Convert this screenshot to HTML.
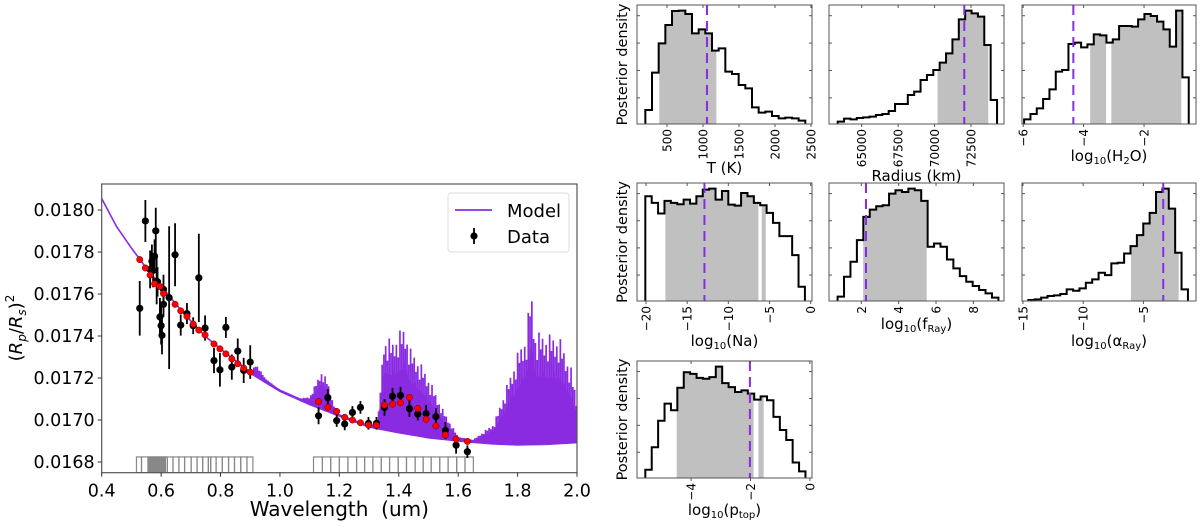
<!DOCTYPE html>
<html><head><meta charset="utf-8"><style>
html,body{margin:0;padding:0;background:#fff;}
svg{display:block;font-family:"DejaVu Sans","Liberation Sans",sans-serif;}
</style></head><body>
<svg id="fig" width="1200" height="528" viewBox="0 0 1200 528" xmlns="http://www.w3.org/2000/svg"></svg>
<script>
// ===== Main spectrum data =====
const modelWl = [0.40,0.45,0.50,0.55,0.60,0.65,0.70,0.75,0.80,0.85,0.90,1.0,1.1,1.2,1.3,1.4,1.5,1.6,1.7,1.8,1.9,2.0];
const modelLow = [0.018055,0.017921,0.017819,0.017724,0.017638,0.017551,0.017472,0.017397,0.017339,0.017283,0.017228,0.017142,0.017079,0.017024,0.016972,0.016945,0.016921,0.016906,0.016893,0.016887,0.016890,0.016898];
const envWl = [0.90,0.92,0.95,1.0,1.05,1.10,1.12,1.14,1.16,1.18,1.20,1.30,1.33,1.35,1.38,1.40,1.42,1.44,1.47,1.50,1.55,1.60,1.65,1.72,1.76,1.80,1.83,1.845,1.86,1.90,1.94,1.98,2.0];
const envHigh = [0.017228,0.017268,0.017200,0.017142,0.017100,0.017110,0.017173,0.017236,0.017189,0.017079,0.017024,0.016972,0.017000,0.017400,0.017380,0.017420,0.017450,0.017340,0.017280,0.017205,0.017047,0.016921,0.016906,0.016984,0.017150,0.017320,0.017420,0.017646,0.017420,0.017409,0.017400,0.017250,0.017094];
const spikePattern = [1.0,0.6,0.85,0.45,0.95,0.65,0.8,0.5,0.9,0.55,0.75,0.4];
const dataWl = [0.528,0.547,0.563,0.569,0.573,0.578,0.582,0.585,0.588,0.596,0.600,0.603,0.608,0.608,0.627,0.647,0.666,0.687,0.708,0.727,0.748,0.778,0.798,0.818,0.838,0.858,0.878,0.900,1.130,1.161,1.191,1.218,1.244,1.271,1.298,1.325,1.352,1.379,1.406,1.436,1.464,1.492,1.525,1.557,1.593,1.631];
const dataVal = [0.017532,0.017948,0.017717,0.017756,0.017712,0.017780,0.017901,0.017661,0.017658,0.017491,0.017449,0.017403,0.017551,0.017622,0.017583,0.017787,0.017452,0.017507,0.017449,0.017677,0.017438,0.017283,0.017239,0.017441,0.017252,0.017328,0.017236,0.017276,0.017020,0.017107,0.016997,0.016981,0.017036,0.017060,0.016984,0.016984,0.017060,0.017113,0.017117,0.017054,0.017028,0.017031,0.017016,0.016950,0.016880,0.016849];
const dataErr = [0.000130,0.000100,0.000090,0.000080,0.000080,0.000080,0.000110,0.000110,0.000070,0.000090,0.000090,0.000090,0.000060,0.000070,0.000340,0.000150,0.000050,0.000050,0.000040,0.000210,0.000060,0.000060,0.000080,0.000050,0.000060,0.000060,0.000060,0.000080,0.000040,0.000040,0.000030,0.000030,0.000030,0.000030,0.000030,0.000030,0.000040,0.000040,0.000040,0.000040,0.000030,0.000040,0.000040,0.000040,0.000040,0.000030];
const binWl = [0.528,0.547,0.563,0.578,0.596,0.608,0.647,0.666,0.687,0.708,0.727,0.748,0.778,0.798,0.818,0.838,0.858,0.878,0.900,1.130,1.161,1.191,1.218,1.244,1.271,1.298,1.325,1.352,1.379,1.406,1.436,1.464,1.492,1.525,1.557,1.593,1.631];
const binVal = [0.017764,0.017724,0.017690,0.017649,0.017636,0.017602,0.017551,0.017520,0.017493,0.017457,0.017428,0.017405,0.017362,0.017339,0.017315,0.017291,0.017268,0.017247,0.017228,0.017087,0.017060,0.017041,0.017013,0.017000,0.016987,0.016976,0.016975,0.017071,0.017076,0.017082,0.017107,0.017055,0.017003,0.016972,0.016929,0.016909,0.016898];
const passEdges1 = [0.517,0.534,0.556,0.614,0.621,0.640,0.660,0.679,0.701,0.721,0.740,0.759,0.767,0.785,0.806,0.827,0.847,0.868,0.889,0.909];
const passEdges2 = [1.113,1.143,1.171,1.200,1.229,1.258,1.285,1.313,1.341,1.369,1.398,1.426,1.455,1.482,1.509,1.538,1.566,1.595,1.623,1.651];
const passDense = [0.556,0.614];
const xTicks = [0.4,0.6,0.8,1.0,1.2,1.4,1.6,1.8,2.0];
const xTickLabels = ["0.4","0.6","0.8","1.0","1.2","1.4","1.6","1.8","2.0"];
const yTicks = [0.0168,0.0170,0.0172,0.0174,0.0176,0.0178,0.0180];
const yTickLabels = ["0.0168","0.0170","0.0172","0.0174","0.0176","0.0178","0.0180"];

// ===== Posterior histogram data =====
const tHeights = [42,154,242,297,339,340,330,272,284,272,220,227,157,150,117,107,50,34,37,24,17,19,17,10];
const tBinRange = [199,2421]; const tShade = [[398,1180]]; const tDash = 1055;
const tTicks = [500,1000,1500,2000,2500]; const tTickLabels = ["500","1000","1500","2000","2500"];
const rHeights = [7,16,14,18,20,22,27,30,39,60,60,87,97,132,147,162,184,212,254,314,340,332,322,237,72];
const rBinRange = [63353,74287]; const rShade = [[70229,73660]]; const rDash = 72040;
const rTicks = [65000,67500,70000,72500]; const rTickLabels = ["65000","67500","70000","72500"];
const hHeights = [14,30,47,75,104,157,162,240,244,230,239,269,266,244,254,294,294,292,314,330,324,307,284,232,340,140];
const hBinRange = [-5.97,-0.52]; const hShade = [[-3.77,-3.27],[-3.07,-0.78]]; const hDash = -4.34;
const hTicks = [-6,-4,-2]; const hTickLabels = ["\u22126","\u22124","\u22122"];
const nHeights = [315,295,263,301,295,291,305,293,315,335,338,305,331,290,287,325,315,295,288,265,235,195,195,138,43];
const nBinRange = [-20.08,-0.7]; const nShade = [[-17.6,-6.4],[-5.9,-5.5]]; const nDash = -12.9;
const nTicks = [-20,-15,-10,-5,0]; const nTickLabels = ["\u221220","\u221215","\u221210","\u22125","0"];
const fHeights = [13,73,118,183,253,275,285,288,323,333,328,338,333,301,163,173,163,125,98,75,58,45,33,23,10];
const fBinRange = [0.73,9.34]; const fShade = [[2.12,5.48]]; const fDash = 2.25;
const fTicks = [2,4,6,8]; const fTickLabels = ["2","4","6","8"];
const aHeights = [3,5,10,15,17,21,35,31,38,55,65,85,78,113,115,143,165,198,233,265,328,338,278,145,35];
const aBinRange = [-14.55,-1.3]; const aShade = [[-6.0,-2.1]]; const aDash = -3.35;
const aTicks = [-15,-10,-5]; const aTickLabels = ["\u221215","\u221210","\u22125"];
const pHeights = [25,93,173,225,205,273,320,315,303,300,305,337,287,275,260,265,255,237,247,235,185,145,115,47,20];
const pBinRange = [-5.54,-0.15]; const pShade = [[-4.47,-1.91],[-1.72,-1.57]]; const pDash = -2.02;
const pTicks = [-4,-2,0]; const pTickLabels = ["\u22124","\u22122","0"];

const NS = "http://www.w3.org/2000/svg";
const svg = document.getElementById('fig');
function mk(tag, attrs, parent) {
  const e = document.createElementNS(NS, tag);
  for (const k in attrs) e.setAttribute(k, attrs[k]);
  (parent || svg).appendChild(e);
  return e;
}
const PURPLE = "#8a2be2";

// ===== Main chart =====
const M = {l:101.7, r:577, t:184, b:472.7};
const xMin = 0.4, xMax = 2.0, yMin = 0.016749, yMax = 0.018124;
const sx = v => M.l + (v - xMin) / (xMax - xMin) * (M.r - M.l);
const sy = v => M.b - (v - yMin) / (yMax - yMin) * (M.b - M.t);
const main = mk('g', {});


const clipM = mk('clipPath', {id:'clipMain'}, main);
mk('rect', {x:M.l, y:M.t, width:M.r-M.l, height:M.b-M.t}, clipM);
const plot = mk('g', {'clip-path':'url(#clipMain)'}, main);

function interp(xs, ys, w) {
  if (w <= xs[0]) return ys[0];
  for (let i = 0; i < xs.length - 1; i++) {
    if (w >= xs[i] && w <= xs[i+1]) {
      const f = (w - xs[i]) / (xs[i+1] - xs[i]);
      return ys[i] + f * (ys[i+1] - ys[i]);
    }
  }
  return ys[ys.length-1];
}
const baseAt = w => interp(modelWl, modelLow, w);
let bandD = "M" + sx(envWl[0]) + "," + sy(baseAt(envWl[0]));
envWl.forEach((w,i) => {
  const mid = baseAt(w) + (envHigh[i] - baseAt(w)) * 0.6;
  bandD += " L" + sx(w) + "," + sy(mid);
});
for (let i = envWl.length - 1; i >= 0; i--) bandD += " L" + sx(envWl[i]) + "," + sy(baseAt(envWl[i]) - 0.000008);
bandD += " Z";
const band = mk('path', {d:bandD, fill:PURPLE, stroke:PURPLE, 'stroke-width':'0.6'}, plot);


let spD = "";
let k = 0;
for (let w = envWl[0]; w <= envWl[envWl.length-1]; w += 0.003) {
  const b = baseAt(w), e = interp(envWl, envHigh, w);
  if (e - b < 0.000004) { k++; continue; }
  const top = b + (e - b) * spikePattern[k % spikePattern.length];
  spD += "M" + sx(w).toFixed(2) + "," + sy(b).toFixed(2) + "V" + sy(top).toFixed(2);
  k++;
}
const spikes = mk('path', {d:spD, fill:'none', stroke:PURPLE, 'stroke-width':'1.7'}, plot);


let lineD = "";
modelWl.forEach((w,i) => { lineD += (i ? " L" : "M") + sx(w) + "," + sy(modelLow[i]); });
const mline = mk('path', {d:lineD, fill:'none', stroke:PURPLE, 'stroke-width':'1.6'}, plot);



const pbTop = sy(0.016824);
const pb = mk('g', {fill:'none', stroke:'#888', 'stroke-width':'1.2'}, plot);


[passEdges1, passEdges2].forEach(edges => {
  for (let i = 0; i < edges.length - 1; i++) {
    const r = mk('rect', {x:sx(edges[i]), y:pbTop, width:sx(edges[i+1]) - sx(edges[i]), height:M.b - pbTop}, pb);
    
    
  }
});
const dense = mk('rect', {x:sx(passDense[0]), y:pbTop, width:sx(passDense[1]) - sx(passDense[0]), height:M.b - pbTop, fill:'#888'}, pb);



const dg = mk('g', {}, plot);


dataWl.forEach((w,i) => {
  const x = sx(w);
  const l = mk('line', {x1:x, x2:x, y1:sy(dataVal[i] + dataErr[i]), y2:sy(dataVal[i] - dataErr[i]), stroke:'#000', 'stroke-width':'1.8'}, dg);
  
  
  const c = mk('circle', {cx:x, cy:sy(dataVal[i]), r:3.6, fill:'#000'}, dg);
  
  
});
const bg = mk('g', {}, plot);


binWl.forEach((w,i) => {
  const c = mk('circle', {cx:sx(w), cy:sy(binVal[i]), r:3.2, fill:'#ff0000', stroke:'#600', 'stroke-width':'0.5'}, bg);
  
  
});

const frame = mk('rect', {x:M.l, y:M.t, width:M.r-M.l, height:M.b-M.t, fill:'none', stroke:'#555', 'stroke-width':'1.2'}, main);


xTicks.forEach((v,i) => {
  const x = sx(v);
  mk('line', {x1:x, x2:x, y1:M.b, y2:M.b+4, stroke:'#333', 'stroke-width':'1'}, main);
  const t = mk('text', {x:x, y:M.b+24, 'text-anchor':'middle', 'font-size':'17.5', fill:'#000'}, main);
  t.textContent = xTickLabels[i];
  
  
});
yTicks.forEach((v,i) => {
  const y = sy(v);
  mk('line', {x1:M.l-4, x2:M.l, y1:y, y2:y, stroke:'#333', 'stroke-width':'1'}, main);
  const t = mk('text', {x:M.l-7, y:y+6, 'text-anchor':'end', 'font-size':'17.5', fill:'#000'}, main);
  t.textContent = yTickLabels[i];
  
  
});
const xl = mk('text', {x:(M.l+M.r)/2, y:516, 'text-anchor':'middle', 'font-size':'20', fill:'#000'}, main);
xl.textContent = "Wavelength\u00a0\u00a0(um)";


const yl = mk('text', {x:0, y:0, transform:'translate(22,328) rotate(-90)', 'text-anchor':'middle', 'font-size':'18', fill:'#000'}, main);
yl.innerHTML = '(<tspan font-style="italic">R</tspan><tspan font-size="12" dy="4" font-style="italic">p</tspan><tspan dy="-4">/</tspan><tspan font-style="italic">R</tspan><tspan font-size="12" dy="4" font-style="italic">s</tspan><tspan dy="-4">)</tspan><tspan font-size="12" dy="-8">2</tspan>';



const lg = mk('g', {}, main);


mk('rect', {x:448, y:193, width:121, height:59, rx:3, fill:'#fff', stroke:'#ddd', 'stroke-width':'1'}, lg);
const le1 = mk('line', {x1:455, x2:492, y1:210, y2:210, stroke:PURPLE, 'stroke-width':'1.8'}, lg);


const lt1 = mk('text', {x:507, y:217, 'font-size':'18', fill:'#000'}, lg);
lt1.textContent = "Model";


mk('line', {x1:474, x2:474, y1:228, y2:244, stroke:'#000', 'stroke-width':'1.8'}, lg);
const le2 = mk('circle', {cx:474, cy:236, r:3.6, fill:'#000'}, lg);


const lt2 = mk('text', {x:507, y:243, 'font-size':'18', fill:'#000'}, lg);
lt2.textContent = "Data";



function hist(name, box, xlim, heights, binRange, shade, dash, ticks, tickLabels, xlabelHTML, xlabelY, ylabel) {
  const [L,T,R,B] = box;
  const g = mk('g', {});
  
  
  const px = v => L + (v - xlim[0]) / (xlim[1] - xlim[0]) * (R - L);
  const hmax = Math.max(...heights) * 1.05;
  const py = h => B - h / hmax * (B - T);
  const n = heights.length;
  const bw = (binRange[1] - binRange[0]) / n;
  for (let i = 0; i < n; i++) {
    const a = binRange[0] + i * bw, b = a + bw;
    shade.forEach(s => {
      const lo = Math.max(a, s[0]), hi = Math.min(b, s[1]);
      if (hi > lo) {
        const r = mk('rect', {x:px(lo), y:py(heights[i]), width:px(hi) - px(lo), height:B - py(heights[i]), fill:'#c0c0c0', stroke:'#c0c0c0', 'stroke-width':'0.8'}, g);
        
        
      }
    });
  }
  let d = "M" + px(binRange[0]) + "," + B;
  for (let i = 0; i < n; i++) {
    const a = binRange[0] + i * bw;
    d += " L" + px(a) + "," + py(heights[i]) + " L" + px(a + bw) + "," + py(heights[i]);
  }
  d += " L" + px(binRange[1]) + "," + B;
  const st = mk('path', {d:d, fill:'none', stroke:'#000', 'stroke-width':'2'}, g);
  
  
  const dl = mk('line', {x1:px(dash), x2:px(dash), y1:T, y2:B, stroke:PURPLE, 'stroke-width':'2', 'stroke-dasharray':'10,6'}, g);
  
  
  const fr = mk('rect', {x:L, y:T, width:R-L, height:B-T, fill:'none', stroke:'#555', 'stroke-width':'1'}, g);
  
  
  [0.22,0.45,0.68,0.91].forEach(f => {
    const y = B - f * (B - T);
    mk('line', {x1:L, x2:L+3, y1:y, y2:y, stroke:'#555'}, g);
    mk('line', {x1:R-3, x2:R, y1:y, y2:y, stroke:'#555'}, g);
  });
  ticks.forEach((v,i) => {
    const x = px(v);
    mk('line', {x1:x, x2:x, y1:B, y2:B+3, stroke:'#555'}, g);
    mk('line', {x1:x, x2:x, y1:T, y2:T+3, stroke:'#555'}, g);
    const t = mk('text', {x:0, y:0, transform:'translate(' + (x+4.5) + ',' + (B+5) + ') rotate(-90)', 'text-anchor':'end', 'font-size':'12', fill:'#000'}, g);
    t.textContent = tickLabels[i];
    
    
  });
  const xt = mk('text', {x:(L+R)/2, y:xlabelY, 'text-anchor':'middle', 'font-size':'15', fill:'#000'}, g);
  xt.innerHTML = xlabelHTML;
  
  
  if (ylabel) {
    const yt = mk('text', {x:0, y:0, transform:'translate(627,' + ((T+B)/2) + ') rotate(-90)', 'text-anchor':'middle', 'font-size':'14.5', fill:'#000'}, g);
    yt.textContent = "Posterior density";
    
    
  }
}
const sub = s => '<tspan font-size="10" dy="3">' + s + '</tspan><tspan dy="-3">';
hist('hist-temperature', [637,5,812,124], [83,2514], tHeights, tBinRange, tShade, tDash, tTicks, tTickLabels, 'T (K)', 173, true);
hist('hist-radius', [829,5,1004,124], [62756,74765], rHeights, rBinRange, rShade, rDash, rTicks, rTickLabels, 'Radius (km)', 181, false);
hist('hist-h2o', [1022,5,1196,124], [-6.04,-0.28], hHeights, hBinRange, hShade, hDash, hTicks, hTickLabels, 'log' + sub('10') + '(H' + sub('2') + 'O)</tspan>', 161, false);
hist('hist-na', [637,183,812,301], [-21.09,0.16], nHeights, nBinRange, nShade, nDash, nTicks, nTickLabels, 'log' + sub('10') + '(Na)</tspan>', 346, true);
hist('hist-fray', [829,183,1004,301], [0.27,9.64], fHeights, fBinRange, fShade, fDash, fTicks, fTickLabels, 'log' + sub('10') + '(f' + sub('Ray') + ')</tspan>', 329, false);
hist('hist-alpha', [1022,183,1196,301], [-15.08,-0.63], aHeights, aBinRange, aShade, aDash, aTicks, aTickLabels, 'log' + sub('10') + '(\u03b1' + sub('Ray') + ')</tspan>', 346, false);
hist('hist-ptop', [637,361,812,478], [-5.82,0.07], pHeights, pBinRange, pShade, pDash, pTicks, pTickLabels, 'log' + sub('10') + '(p' + sub('top') + ')</tspan>', 515, true);
</script>
</body></html>
